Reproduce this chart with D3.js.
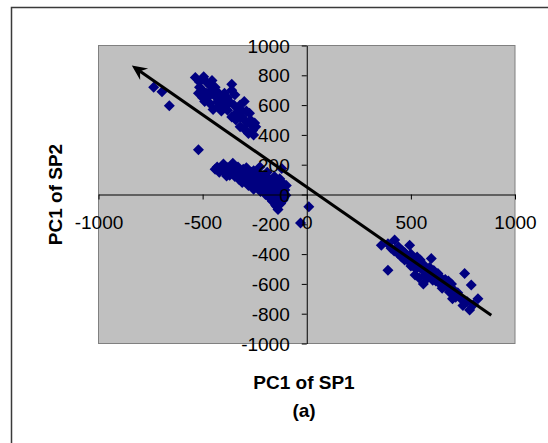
<!DOCTYPE html>
<html>
<head>
<meta charset="utf-8">
<script src="https://cdn.jsdelivr.net/npm/d3@7"></script>
<style>
  html, body { margin: 0; padding: 0; background: #fff; }
  svg { display: block; font-family: Arial, "Liberation Sans", sans-serif; }
</style>
</head>
<body>
<svg id="pcaSVG"></svg>
<script>
// upper-left group (SP1 negative, SP2 high)
const groupA = [
  [-535, 785], [-495, 790], [-455, 765], [-470, 740], [-515, 720], [-500, 700],
  [-480, 680], [-455, 700], [-430, 690], [-440, 660], [-420, 650], [-400, 635],
  [-410, 610], [-390, 590], [-450, 570], [-360, 740], [-345, 670], [-370, 620],
  [-350, 600], [-380, 565], [-330, 580], [-300, 625], [-310, 560], [-340, 545],
  [-290, 560], [-275, 545], [-320, 520], [-300, 500], [-285, 480], [-320, 455],
  [-265, 465], [-260, 430], [-245, 455], [-255, 400], [-280, 410], [-300, 440],
  [-470, 660], [-430, 620], [-500, 650], [-395, 680], [-485, 760], [-515, 755],
  [-460, 725], [-440, 720], [-490, 625], [-465, 610], [-425, 590], [-380, 650],
  [-360, 700], [-410, 560], [-360, 520], [-340, 500], [-310, 520], [-270, 500],
  [-250, 480], [-520, 680], [-380, 610], [-320, 600],
  [-735, 720], [-695, 690], [-660, 595], [-520, 300]
];
// middle group, just around the origin
const groupB = [
  [-440, 170], [-420, 150], [-410, 185], [-400, 205], [-390, 170], [-385, 125],
  [-375, 150], [-365, 190], [-355, 210], [-350, 165], [-345, 120], [-340, 145],
  [-330, 185], [-325, 100], [-320, 160], [-315, 130], [-310, 80], [-305, 170],
  [-300, 120], [-295, 145], [-290, 180], [-285, 95], [-280, 60], [-275, 130],
  [-270, 110], [-265, 150], [-260, 80], [-255, 35], [-250, 120], [-245, 95],
  [-240, 60], [-235, 140], [-230, 105], [-225, 185], [-222, 20], [-218, 75],
  [-212, 45], [-208, 120], [-200, 90], [-198, 0], [-195, 60], [-190, 150],
  [-185, 30], [-180, -20], [-178, 100], [-172, 65], [-168, 10], [-165, -45],
  [-160, 40], [-155, 120], [-150, -10], [-148, 80], [-145, -80], [-140, 25],
  [-138, -100], [-135, -40], [-130, 105], [-128, 55], [-125, -60], [-120, 175],
  [-118, 0], [-112, -20], [-110, 70], [-105, 30], [-100, -5], [-98, 60],
  [-430, 185], [-415, 165], [-395, 150], [-380, 180], [-370, 130], [-360, 160],
  [-335, 165], [-325, 135], [-310, 150], [-300, 95], [-290, 125], [-280, 150],
  [-270, 85], [-260, 130], [-245, 120], [-235, 75], [-225, 50], [-215, 100],
  [-205, 30], [-190, 75], [-180, 45], [-175, 0], [-160, 90], [-158, -25],
  [-150, 55], [-142, -55], [-132, 10], [-120, 40], [-115, -40], [-150, -70],
  [-345, 190], [-285, 170], [-255, 160], [-275, 100], [-230, 130],
  [10, -82], [-30, -192]
];
// lower-right group
const groupC = [
  [358, -340], [390, -330], [422, -305], [405, -360], [440, -350], [460, -380],
  [494, -340], [480, -410], [470, -440], [500, -400], [510, -450], [520, -475],
  [530, -420], [545, -440], [550, -500], [560, -470], [575, -520], [590, -490],
  [598, -430], [600, -540], [610, -510], [620, -580], [630, -530], [645, -560],
  [655, -600], [665, -570], [675, -620], [685, -655], [695, -600], [705, -640],
  [715, -690], [725, -660], [740, -700], [750, -745], [758, -530], [770, -720],
  [782, -775], [790, -608], [800, -740], [822, -700], [390, -508], [440, -400],
  [520, -540], [560, -600], [580, -560], [540, -560], [500, -480], [470, -390],
  [640, -600], [700, -700], [420, -380], [455, -420], [490, -450], [525, -500],
  [570, -540], [605, -575], [650, -630], [680, -580]
];
// arrow: from tail to head
const arrowLine = [[886, -810], [-840, 865]];
const xTicks = [-1000, -500, 0, 500, 1000];
const yTicks = [-1000, -800, -600, -400, -200, 0, 200, 400, 600, 800, 1000];
const xTitle = 'PC1 of SP1',
  yTitle = 'PC1 of SP2',
  caption = '(a)';

(function() {
  const svgDim = { w: 548, h: 443 },
    plot = { l: 98.5, r: 515, t: 45.5, b: 343.5 },
    $svg = d3.select('#pcaSVG')
      .attr('width', svgDim.w)
      .attr('height', svgDim.h);

  // outer chart frame (runs off the right/bottom of the picture)
  $svg.append('rect')
    .attr('x', 11.5)
    .attr('y', 7.5)
    .attr('width', 560)
    .attr('height', 460)
    .attr('fill', '#fff')
    .attr('stroke', '#3a3a3a')
    .attr('stroke-width', 1.5);

  const xScale = d3.scaleLinear().domain([-1000, 1000]).range([plot.l, plot.r]),
    yScale = d3.scaleLinear().domain([-1000, 1000]).range([plot.b, plot.t]);

  $svg.append('rect')
    .attr('x', plot.l)
    .attr('y', plot.t)
    .attr('width', plot.r - plot.l)
    .attr('height', plot.b - plot.t)
    .attr('fill', '#c0c0c0')
    .attr('stroke', '#808080')
    .attr('stroke-width', 1);

  // points
  const diamond = (r) => 'M0,' + (-r) + 'L' + r + ',0L0,' + r + 'L' + (-r) + ',0Z';
  const allPoints = groupA.concat(groupB, groupC);
  $svg.append('g')
    .selectAll('path')
    .data(allPoints)
    .enter()
    .append('path')
    .attr('d', diamond(5.5))
    .attr('transform', (d) => 'translate(' + xScale(d[0]) + ',' + yScale(d[1]) + ')')
    .attr('fill', '#000080');

  // axes cross at the origin
  const plain = (d) => String(d);
  const $xAxis = $svg.append('g')
    .attr('transform', 'translate(0,' + yScale(0) + ')')
    .call(d3.axisBottom(xScale).tickValues(xTicks).tickFormat(plain)
      .tickSize(5).tickSizeOuter(0).tickPadding(16));
  const $yAxis = $svg.append('g')
    .attr('transform', 'translate(' + xScale(0) + ',0)')
    .call(d3.axisLeft(yScale).tickValues(yTicks).tickFormat(plain)
      .tickSize(5).tickSizeOuter(0).tickPadding(12));
  [$xAxis, $yAxis].forEach(($a) => {
    $a.attr('font-family', 'Arial, "Liberation Sans", sans-serif')
      .attr('font-size', 19);
    $a.select('.domain').attr('stroke', '#000').attr('stroke-width', 1);
    $a.selectAll('.tick line').attr('stroke', '#000');
    $a.selectAll('.tick text').attr('fill', '#000');
  });
  $yAxis.selectAll('.tick text').attr('dy', '0.35em');

  // arrow
  const p0 = [xScale(arrowLine[0][0]), yScale(arrowLine[0][1])],
    p1 = [xScale(arrowLine[1][0]), yScale(arrowLine[1][1])],
    ang = Math.atan2(p1[1] - p0[1], p1[0] - p0[0]),
    headLen = 15, headHalf = 7, notch = 10,
    ux = Math.cos(ang), uy = Math.sin(ang);
  $svg.append('line')
    .attr('x1', p0[0])
    .attr('y1', p0[1])
    .attr('x2', p1[0] - ux * notch)
    .attr('y2', p1[1] - uy * notch)
    .attr('stroke', '#000')
    .attr('stroke-width', 3);
  const bx = p1[0] - ux * headLen, by = p1[1] - uy * headLen;
  $svg.append('path')
    .attr('d', 'M' + p1[0] + ',' + p1[1] +
      'L' + (bx - uy * headHalf) + ',' + (by + ux * headHalf) +
      'L' + (p1[0] - ux * notch) + ',' + (p1[1] - uy * notch) +
      'L' + (bx + uy * headHalf) + ',' + (by - ux * headHalf) + 'Z')
    .attr('fill', '#000');

  // titles
  $svg.append('text')
    .text(xTitle)
    .attr('text-anchor', 'middle')
    .attr('font-size', 19)
    .attr('font-weight', 'bold')
    .attr('x', 304)
    .attr('y', 389);
  $svg.append('text')
    .text(caption)
    .attr('text-anchor', 'middle')
    .attr('font-size', 19)
    .attr('font-weight', 'bold')
    .attr('x', 304)
    .attr('y', 417);
  $svg.append('text')
    .text(yTitle)
    .attr('text-anchor', 'middle')
    .attr('font-size', 19)
    .attr('font-weight', 'bold')
    .attr('transform', 'translate(62,' + yScale(0) + ') rotate(-90)');
})();
</script>
</body>
</html>
